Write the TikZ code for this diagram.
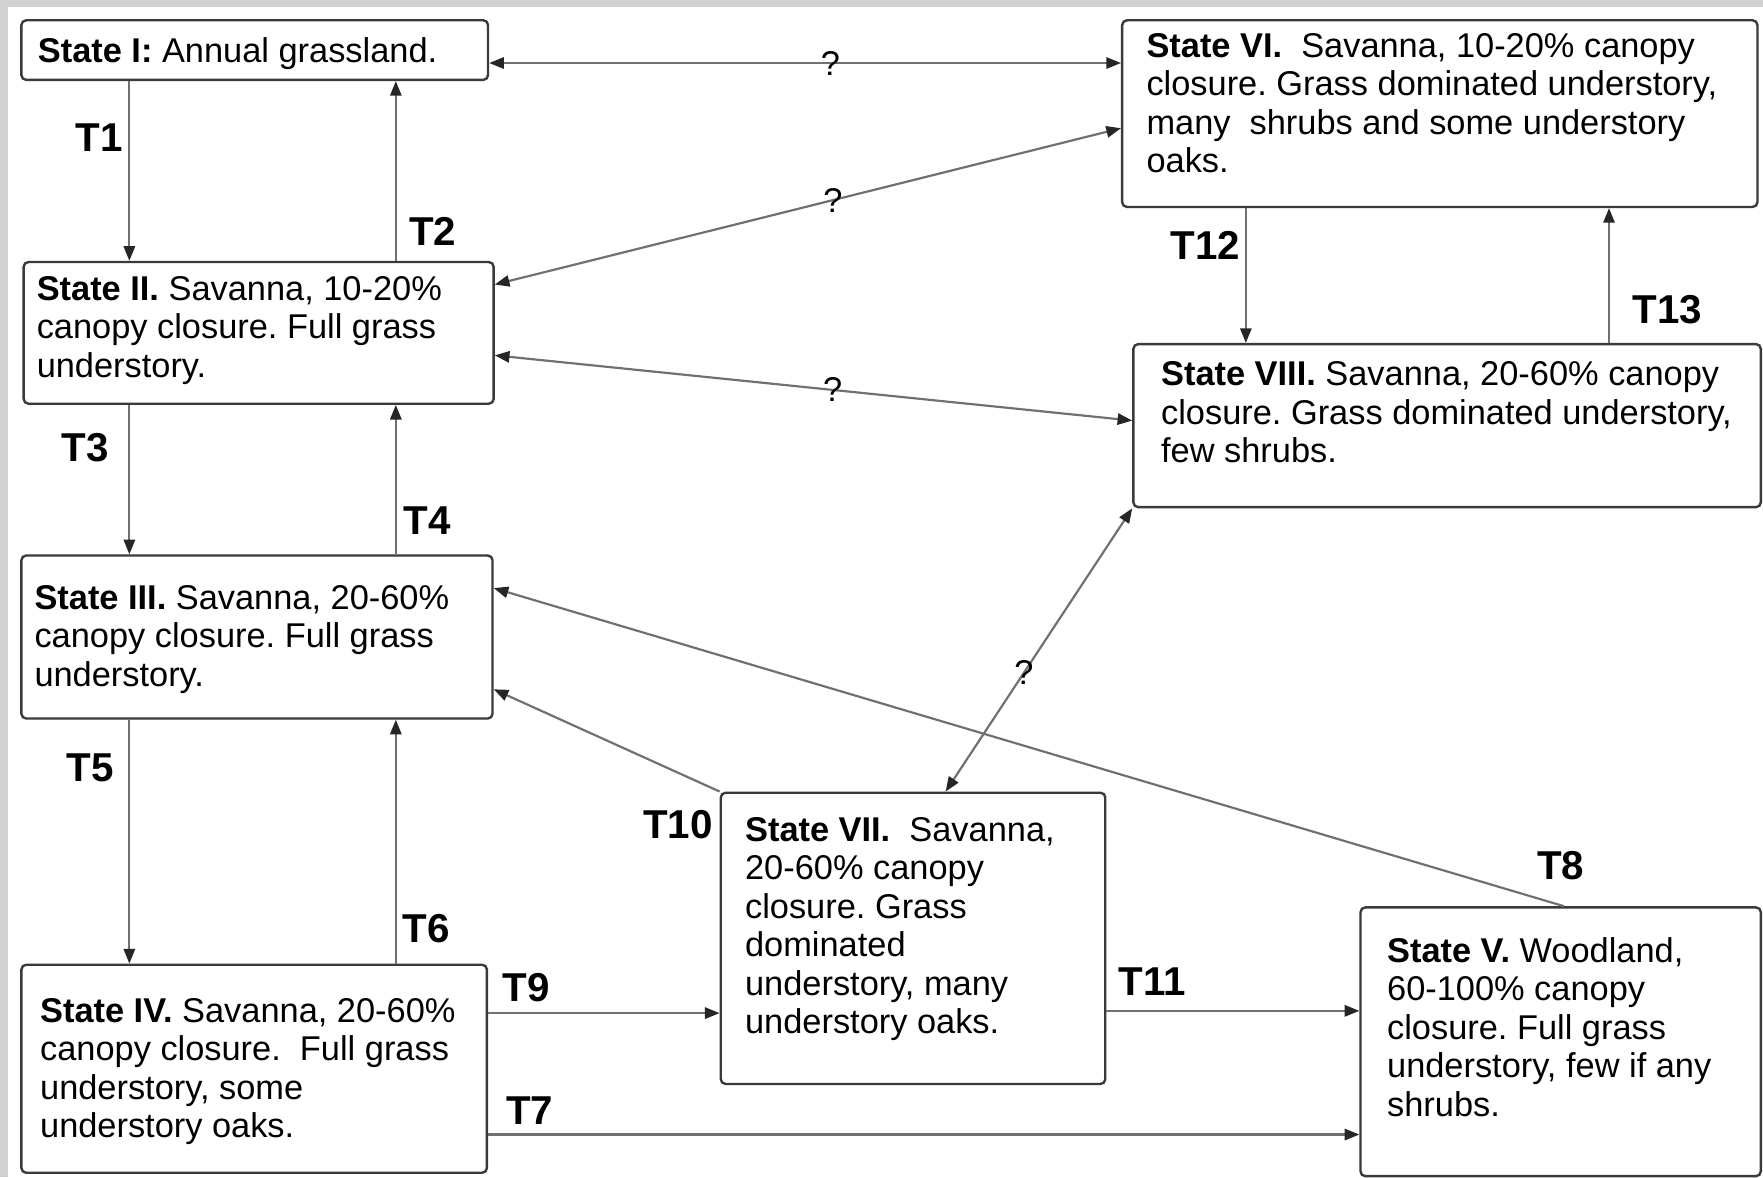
\documentclass[tikz,border=0pt]{standalone}
\usepackage{fontspec}
\setmainfont{Liberation Sans}
\usetikzlibrary{arrows.meta,positioning}
\frenchspacing

\definecolor{boxgray}{HTML}{3A3A3A}
\definecolor{linegray}{HTML}{707070}
\definecolor{bggray}{HTML}{D2D2D2}

\tikzset{
  state/.style={draw=boxgray,line width=0.6pt,rounded corners=1.2pt,anchor=north west,inner sep=0pt},
  desc/.style={align=left,inner sep=0pt,font=\fontsize{8.7}{9.75}\selectfont},
  tip/.tip={Triangle[length=1.3mm,width=1mm,color=black!85]},
  trans/.style={draw=linegray,line width=0.55pt,-tip},
  unknown/.style={draw=linegray,line width=0.55pt,tip-tip},
  tlab/.style={font=\fontsize{10.2}{12}\selectfont\bfseries,inner sep=0pt},
  qmark/.style={font=\fontsize{8.7}{10}\selectfont,inner sep=0pt}
}

\begin{document}
\begin{tikzpicture}[x=0.1mm,y=-0.1mm]
  \useasboundingbox (0,0) rectangle (1568,1047);
  \fill[bggray] (0,0) rectangle (1568,1047);
  \fill[white] (7,6) rectangle (1568,1047);

  % states
  \node[state,minimum width=41.5mm,minimum height=5.3mm] (s1) at (18,17) {};
  \node[state,minimum width=41.8mm,minimum height=12.6mm] (s2) at (20,232) {};
  \node[state,minimum width=41.9mm,minimum height=14.5mm] (s3) at (18,493) {};
  \node[state,minimum width=41.4mm,minimum height=18.5mm] (s4) at (18,857) {};
  \node[state,minimum width=35.6mm,minimum height=23.9mm] (s5) at (1209,806) {};
  \node[state,minimum width=56.5mm,minimum height=16.6mm] (s6) at (997,17) {};
  \node[state,minimum width=34.2mm,minimum height=25.9mm] (s7) at (640,704) {};
  \node[state,minimum width=55.8mm,minimum height=14.5mm] (s8) at (1007,305) {};

  \node[desc,below right=1.6mm and 1.5mm of s1.north west] (d1) {\textbf{State I:} Annual grassland.};
  \node[desc,below right=1.3mm and 1.2mm of s2.north west] (d2) {\textbf{State II.} Savanna, 10-20\%\\canopy closure. Full grass\\understory.};
  \node[desc,below right=2.7mm and 1.2mm of s3.north west] (d3) {\textbf{State III.} Savanna, 20-60\%\\canopy closure. Full grass\\understory.};
  \node[desc,below right=3.0mm and 1.7mm of s4.north west] (d4) {\textbf{State IV.} Savanna, 20-60\%\\canopy closure.~ Full grass\\understory, some\\understory oaks.};
  \node[desc,below right=2.7mm and 2.4mm of s5.north west] (d5) {\textbf{State V.} Woodland,\\60-100\% canopy\\closure. Full grass\\understory, few if any\\shrubs.};
  \node[desc,below right=1.2mm and 2.2mm of s6.north west] (d6) {\textbf{State VI.}~ Savanna, 10-20\% canopy\\closure. Grass dominated understory,\\many~ shrubs and some understory\\oaks.};
  \node[desc,below right=2.2mm and 2.2mm of s7.north west] (d7) {\textbf{State VII.}~ Savanna,\\20-60\% canopy\\closure. Grass\\dominated\\understory, many\\understory oaks.};
  \node[desc,below right=1.6mm and 2.5mm of s8.north west] (d8) {\textbf{State VIII.} Savanna, 20-60\% canopy\\closure. Grass dominated understory,\\few shrubs.};

  % transitions
  \draw[trans] ([xshift=-11.15mm]s1.south) -- ([xshift=-11.15mm]s1.south |- s2.north);
  \draw[trans] ([xshift=12.2mm]s2.north) -- ([xshift=12.2mm]s2.north |- s1.south);
  \draw[trans] ([xshift=-11.5mm]s2.south) -- ([xshift=-11.5mm]s2.south |- s3.north);
  \draw[trans] ([xshift=12.35mm]s3.north) -- ([xshift=12.35mm]s3.north |- s2.south);
  \draw[trans] ([xshift=-11.35mm]s3.south) -- ([xshift=-11.35mm]s3.south |- s4.north);
  \draw[trans] ([xshift=12.6mm]s4.north) -- ([xshift=12.6mm]s4.north |- s3.south);
  \draw[trans] ([yshift=4.95mm]s4.east) -- ([yshift=4.95mm]s4.east -| s7.west);
  \draw[trans] ([yshift=-5.85mm]s4.east) -- ([yshift=-5.85mm]s4.east -| s5.west);
  \draw[trans] ([yshift=-6.45mm]s7.east) -- ([yshift=-6.45mm]s7.east -| s5.west);
  \draw[trans] (s7.north west) -- ([yshift=-4.65mm]s3.east);
  \draw[trans] ([xshift=0.3mm]s5.north) -- ([yshift=4.35mm]s3.east);
  \draw[trans] ([xshift=-17.25mm]s6.south) -- ([xshift=-17.25mm]s6.south |- s8.north);
  \draw[trans] ([xshift=14.4mm]s8.north) -- ([xshift=14.4mm]s8.north |- s6.south);

  % unknown transitions
  \draw[unknown] ([yshift=-1.15mm]s1.east) -- node[qmark,pos=0.54] (q1) {?} ([yshift=-1.15mm]s1.east -| s6.west);
  \draw[unknown] ([yshift=4.3mm]s2.east) -- node[qmark,pos=0.54] (q2) {?} ([yshift=-1.3mm]s6.west);
  \draw[unknown] ([yshift=-2mm]s2.east) -- node[qmark,pos=0.53] (q3) {?} ([yshift=0.45mm]s8.west);
  \draw[unknown] (s8.south west) -- node[qmark,pos=0.58] (q4) {?} ([xshift=2.9mm]s7.north);

  \node[tlab] (l1) at (88,122) {T1};
  \node[tlab] (l2) at (385,206) {T2};
  \node[tlab] (l3) at (76,398) {T3};
  \node[tlab] (l4) at (380,463) {T4};
  \node[tlab] (l5) at (80,683) {T5};
  \node[tlab] (l6) at (379,826) {T6};
  \node[tlab] (l7) at (471,988) {T7};
  \node[tlab] (l8) at (1388,770) {T8};
  \node[tlab] (l9) at (468,878) {T9};
  \node[tlab] (l10) at (603,733) {T10};
  \node[tlab] (l11) at (1025,873) {T11};
  \node[tlab] (l12) at (1072,218) {T12};
  \node[tlab] (l13) at (1483,275) {T13};
\end{tikzpicture}
\end{document}
